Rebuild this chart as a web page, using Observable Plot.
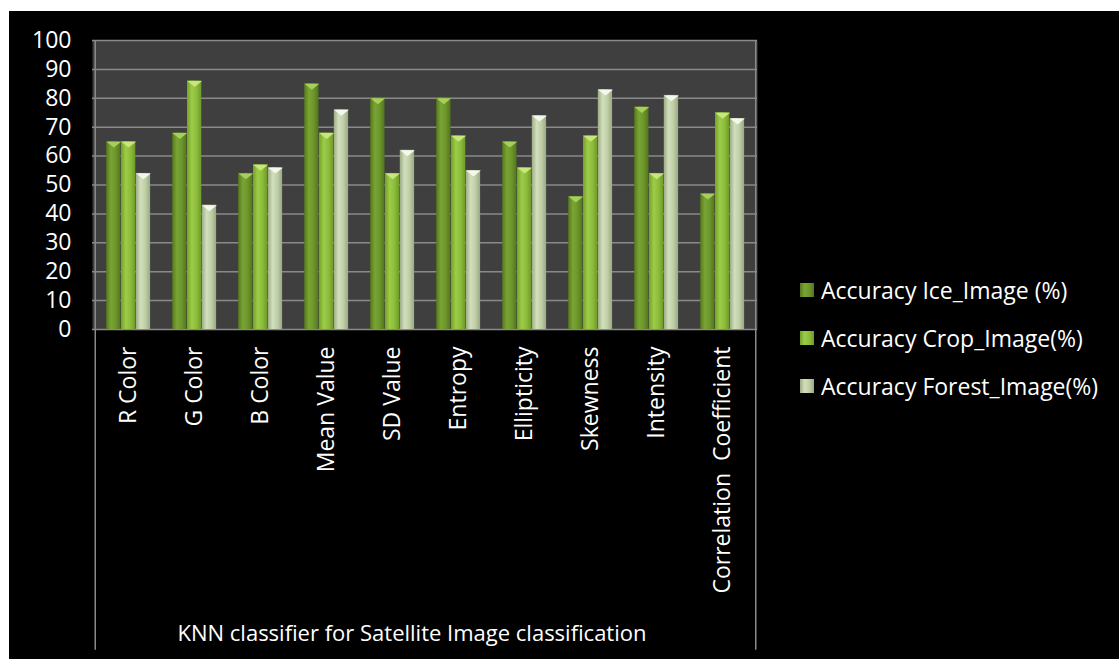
<!DOCTYPE html>
<html>
<head>
<meta charset="utf-8">
<script src="https://cdn.jsdelivr.net/npm/d3@7"></script>
<script src="https://cdn.jsdelivr.net/npm/@observablehq/plot@0.6"></script>
<style>
  html, body { margin: 0; padding: 0; background: #ffffff; }
  #chart { position: absolute; left: 9px; top: 11px; width: 1110px; height: 648px; background: #000000; overflow: hidden; }
  #chart svg text { white-space: pre; }
  #legend { position: absolute; left: 791px; top: 255px; width: 319px; }
  .lg-swatch { height: 48px; padding-bottom: 0 !important; }
  .lg-swatch > svg { margin-right: 7px !important; }
</style>
</head>
<body>
<div id="chart"><div id="legend"></div></div>
<script>
// Feature categories on the x axis
const categories = ["R Color", "G Color", "B Color", "Mean Value", "SD Value", "Entropy", "Ellipticity", "Skewness", "Intensity", "Correlation  Coefficient"];
// Series names
const seriesNames = ["Accuracy Ice_Image (%)", "Accuracy Crop_Image(%)", "Accuracy Forest_Image(%)"];
// Accuracy values (%) per feature
const iceAccuracy = [65, 68, 54, 85, 80, 80, 65, 46, 77, 47];
const cropAccuracy = [65, 86, 57, 68, 54, 67, 56, 67, 54, 75];
const forestAccuracy = [54, 43, 56, 76, 62, 55, 74, 83, 81, 73];
// Y axis ticks
const yTicks = [0, 10, 20, 30, 40, 50, 60, 70, 80, 90, 100];
const axisTitle = "KNN classifier for Satellite Image classification";

const seriesValues = [iceAccuracy, cropAccuracy, forestAccuracy];
const rows = seriesValues.flatMap((vals, s) =>
  vals.map((value, i) => ({category: categories[i], series: seriesNames[s], s, value})));

// Bar shading: horizontal gradients and a light bevel on top
const gradientStops = [
  ["#56781f", "#7aa534", "#6c962b", "#53751d"],
  ["#74a02b", "#9dcc47", "#8cbc3b", "#6f9a29"],
  ["#9cab85", "#d2dfbd", "#c0cfa6", "#9aa984"]
];
const bevelColors = ["#a6cf5c", "#c8e67b", "#f4f7ec"];

const W = 1110, H = 648;
const mLeft = 83, mRight = 362, mTop = 29, mBottom = 330;
const band = (W - mLeft - mRight) / categories.length;
const barW = 14.8, lead = 11.2;

const chevron = {
  draw(ctx, size) {
    const w = Math.sqrt(size / Math.PI) * 2;
    const h = w * 0.4;
    ctx.moveTo(-w / 2, 0);
    ctx.lineTo(w / 2, 0);
    ctx.lineTo(0, h);
    ctx.closePath();
  }
};

const barMarks = seriesNames.flatMap((name, s) => {
  const data = rows.filter(d => d.s === s);
  const left = lead + s * barW;
  const right = band - left - barW;
  return [
    Plot.barY(data, {x: "category", y: "value", fill: "series", insetLeft: left, insetRight: right}),
    Plot.dot(data, {x: "category", y: "value", symbol: chevron, r: barW / 2, fill: bevelColors[s], stroke: null,
      dx: left + barW / 2 - band / 2})
  ];
});

const chart = Plot.plot({
  width: W,
  height: H,
  marginLeft: mLeft,
  marginRight: mRight,
  marginTop: mTop,
  marginBottom: mBottom,
  style: {background: "transparent", fontFamily: "'Open Sans', sans-serif", fontSize: "23px", color: "#ffffff", overflow: "visible"},
  x: {domain: categories, padding: 0},
  y: {domain: [0, 100]},
  color: {domain: seriesNames, range: ["url(#barShade0)", "url(#barShade1)", "url(#barShade2)"]},
  marks: [
    Plot.frame({fill: "#3f3f3f", stroke: null}),
    Plot.ruleY(yTicks, {stroke: "#8a8a8a", strokeWidth: 1.5}),
    ...barMarks,
    Plot.ruleX([categories[0]], {x: d => d, dx: -band / 2, y1: 100, y2: -111, stroke: "#8a8a8a", strokeWidth: 1.5}),
    Plot.ruleX([categories[categories.length - 1]], {x: d => d, dx: band / 2, y1: 100, y2: -111, stroke: "#8a8a8a", strokeWidth: 1.5}),
    Plot.axisY({ticks: yTicks, tickSize: 0, tickPadding: 21, fill: "#ffffff", fontSize: 23, label: null}),
    Plot.axisX({tickRotate: -90, tickSize: 0, tickPadding: 17, fill: "#ffffff", label: null}),
    Plot.text([axisTitle], {frameAnchor: "bottom", dy: 311, dx: -13, fill: "#ffffff", fontSize: 22})
  ]
});

const defs = gradientStops.map((stops, s) =>
  `<linearGradient id="barShade${s}" x1="0" x2="1" y1="0" y2="0">` +
  stops.map((c, k) => `<stop offset="${k / (stops.length - 1)}" stop-color="${c}"/>`).join("") +
  `</linearGradient>`).join("");
chart.insertAdjacentHTML("afterbegin", `<defs>${defs}</defs>`);

document.getElementById("chart").prepend(chart);

const legend = chart.legend("color", {
  className: "lg",
  columns: 1,
  swatchSize: 14,
  style: {fontFamily: "'Open Sans', sans-serif", fontSize: "23px", color: "#ffffff", background: "transparent"}
});
document.getElementById("legend").append(legend);
</script>
</body>
</html>
